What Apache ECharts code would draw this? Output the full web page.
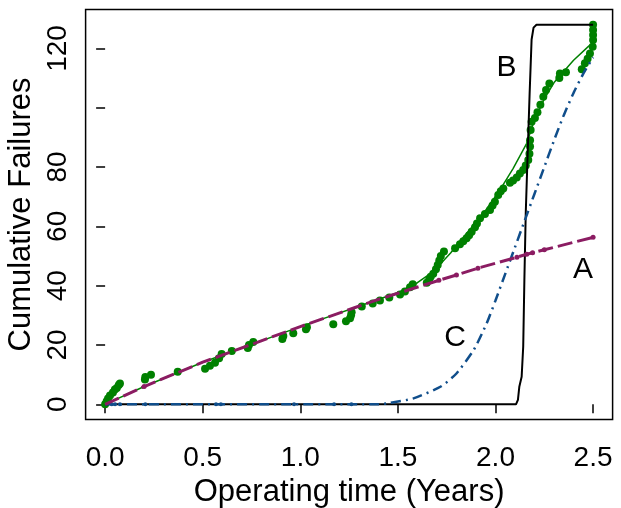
<!DOCTYPE html>
<html>
<head>
<meta charset="utf-8">
<script src="https://cdn.jsdelivr.net/npm/echarts@6/dist/echarts.min.js"></script>
<style>html,body{margin:0;padding:0;background:#fff}#c{width:621px;height:508px}</style>
</head>
<body>
<div id="c"></div>
<script>
// ---- data ----
const xTicks = [0, 0.5, 1.0, 1.5, 2.0, 2.5];
const yTicks = [0, 20, 40, 60, 80, 100, 120];
const yTickLabels = [0, 20, 40, 60, 80, 120];

// observed cumulative failures (time in years, count)
const observed = [
  [0,0],[0.008,1],[0.015,2],[0.025,3],[0.04,4],[0.05,5],[0.06,5.5],[0.07,6.5],[0.076,7],
  [0.204,8.4],[0.206,9.2],[0.235,10],[0.372,11],[0.512,12],[0.537,13],[0.563,14],[0.584,15.5],
  [0.597,17],[0.649,18],[0.731,19],[0.737,20],[0.759,21],[0.908,22],[0.913,23],[0.964,24],
  [1.029,25.3],[1.034,26],[1.169,27],[1.234,28],[1.255,29],[1.26,30],[1.263,31],[1.315,33],
  [1.371,34],[1.408,35],[1.456,36],[1.511,37],[1.536,38],[1.562,39.5],[1.576,40.5],[1.648,41],
  [1.66,42],[1.668,43],[1.681,44],[1.695,45.5],[1.704,47],[1.712,48.5],[1.72,50],[1.736,51.5],
  [1.793,52.6],[1.818,54],[1.835,55],[1.852,56],[1.865,57],[1.878,58.2],[1.895,59.7],[1.905,61],
  [1.921,62.7],[1.946,64.2],[1.972,65.5],[1.985,67],[1.997,68.3],[2.014,70.6],[2.027,71.8],
  [2.04,72.8],[2.074,74.7],[2.09,75.5],[2.109,76.5],[2.125,77.8],[2.142,79],[2.155,80.5],
  [2.168,82.4],[2.174,84.5],[2.177,86.9],[2.177,89],[2.18,92.5],[2.185,95.3],[2.202,96.5],
  [2.215,98.5],[2.23,101],[2.245,103.7],[2.259,106],[2.276,108.2],[2.327,110],[2.33,111.5],
  [2.361,112],[2.442,113],[2.458,115],[2.472,116.5],[2.484,118.3],[2.498,120.6],[2.5,122.8],
  [2.5,124.5],[2.5,126.2],[2.5,128]
];
// smooth fit through the observed data (thin green line)
const fitCurve = [
  [0,0],[0.2,6],[0.5,14.2],[1.0,26.2],[1.41,35.6],[1.511,38],[1.6,41],[1.681,44.7],[1.77,51],
  [1.852,57.6],[1.94,64.5],[2.023,72.3],[2.09,79.5],[2.16,88],[2.2,96],[2.25,103],[2.3,108.5],
  [2.4,116],[2.475,120.6],[2.5,122]
];
// model A (dashed maroon)
const modelA = [
  [0,0],[0.2,6],[0.5,14.2],[1.0,26.2],[1.41,35.6],[1.71,41.8],[1.8,43.6],[1.91,45.9],
  [2.11,49.6],[2.16,50.6],[2.19,51.1],[2.25,52.1],[2.5,56.3]
];
const modelAMarks = [[0.2,6],[1.71,41.8],[1.8,43.6],[1.91,45.9],[2.11,49.6],[2.16,50.6],[2.19,51.1],[2.25,52.1],[2.5,56.3]];
// model B (solid black)
const modelB = [
  [0,0],[2.105,0],[2.115,1.5],[2.122,5.9],[2.134,9.3],[2.142,19.4],[2.148,41.9],[2.155,64.4],
  [2.165,85],[2.175,105],[2.185,123],[2.195,127],[2.21,128],[2.5,128]
];
// model C (dash-dot blue)
const modelC = [
  [0,0],[1.4,0],[1.46,0.5],[1.58,2],[1.72,6],[1.8,10.4],[1.89,18.5],[1.955,27.3],[2.0,35],
  [2.05,44],[2.1,53],[2.15,62],[2.2,71],[2.25,80],[2.3,89],[2.35,97.5],[2.4,105],[2.45,111.5],[2.5,117]
];
const modelCMarks = [[0.034,0],[0.051,0],[0.076,0],[0.206,0],[0.568,0],[0.593,0],[0.968,0],[1.173,0],[1.262,0]];
// curve labels
const curveLabels = [{name:'A', value:[2.448,45.3]},{name:'B', value:[2.057,113.6]},{name:'C', value:[1.793,22.4]}];

const FONT = 'Liberation Sans, Arial, Helvetica, sans-serif';
const GREEN = '#008000', MAROON = '#8b1c62', BLUE = '#104e8b';

const chart = echarts.init(document.getElementById('c'), null, {renderer:'canvas'});
chart.setOption({
  animation: false,
  backgroundColor: '#fff',
  grid: {left: 85.6, right: 8.4, top: 9.5, bottom: 88.5, show: true, borderColor: '#000', borderWidth: 1.5, outerBoundsMode: 'none', containLabel: false},
  xAxis: {
    type: 'value', min: -0.1, max: 2.6,
    splitLine: {show: false},
    axisLine: {show: false},
    axisTick: {show: true, customValues: xTicks, length: 9, inside: false, lineStyle: {color: '#000', width: 1.5}},
    axisLabel: {customValues: xTicks, formatter: v => v.toFixed(1), fontSize: 28, color: '#000', fontFamily: FONT, margin: 25},
    name: 'Operating time (Years)', nameLocation: 'middle', nameGap: 57,
    nameTextStyle: {fontSize: 31, color: '#000', fontFamily: FONT}
  },
  yAxis: {
    type: 'value', min: -5.12, max: 133.12,
    splitLine: {show: false},
    axisLine: {show: false},
    axisTick: {show: true, customValues: yTicks, length: 9, inside: false, lineStyle: {color: '#000', width: 1.5}},
    axisLabel: {customValues: yTickLabels, rotate: 90, fontSize: 28, color: '#000', fontFamily: FONT, margin: 13},
    name: 'Cumulative Failures', nameLocation: 'middle', nameGap: 43,
    nameTextStyle: {fontSize: 31, color: '#000', fontFamily: FONT}
  },
  series: [
    {type: 'scatter', data: observed, symbol: 'circle', symbolSize: 8, itemStyle: {color: GREEN, opacity: 1}, z: 2},
    {type: 'line', data: fitCurve, showSymbol: false, lineStyle: {color: GREEN, width: 1.5}, z: 3},
    {type: 'line', data: modelB, showSymbol: false, lineStyle: {color: '#000', width: 2}, z: 4},
    {type: 'line', data: modelC, showSymbol: false, smooth: 0.2, lineStyle: {color: BLUE, width: 2.5, type: [10, 5, 2, 5]}, z: 5},
    {type: 'scatter', data: modelCMarks, symbol: 'circle', symbolSize: 4, itemStyle: {color: BLUE, opacity: 1}, z: 5},
    {type: 'line', data: modelA, showSymbol: false, lineStyle: {color: MAROON, width: 3, type: [15, 5]}, z: 6},
    {type: 'scatter', data: modelAMarks, symbol: 'circle', symbolSize: 5, itemStyle: {color: MAROON, opacity: 1}, z: 6},
    {type: 'scatter', data: curveLabels, symbolSize: 0, z: 7, itemStyle: {opacity: 1},
     label: {show: true, position: 'inside', formatter: p => p.name, fontSize: 30, color: '#000', opacity: 1, textBorderWidth: 0, fontFamily: FONT}}
  ]
});
</script>
</body>
</html>
